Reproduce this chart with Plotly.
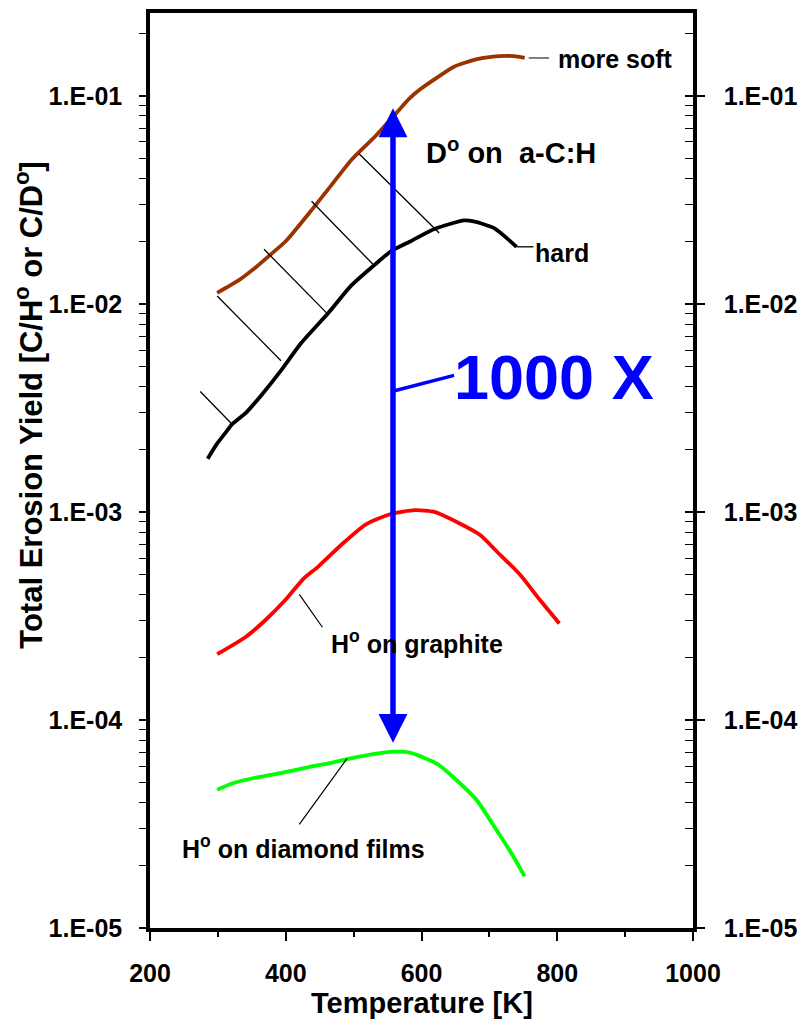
import numpy as np
import plotly.graph_objects as go

# ---------------- data ----------------
soft_T = [299, 331, 356, 378, 400, 438, 467, 496, 533, 562, 582, 599, 619, 648, 682, 715, 736, 752]
soft_Y = [0.0113, 0.0130, 0.0150, 0.0173, 0.0200, 0.0282, 0.0371, 0.0489, 0.0644, 0.0820,
          0.0969, 0.108, 0.120, 0.138, 0.150, 0.155, 0.155, 0.152]

hard_T = [285, 298, 312, 321, 342, 365, 394, 423, 463, 496, 531, 555, 584, 619, 663, 677, 707, 740]
hard_Y = [0.00180, 0.00211, 0.00242, 0.00264, 0.00301, 0.00367, 0.00483, 0.00650, 0.00906,
          0.0122, 0.0154, 0.0179, 0.0200, 0.0229, 0.0252, 0.0249, 0.0231, 0.0188]

graph_T = [299, 342, 371, 400, 426, 448, 482, 517, 555, 590, 619, 657, 686, 711, 745, 774, 803]
graph_Y = [2.07e-4, 2.52e-4, 3.04e-4, 3.79e-4, 4.77e-4, 5.46e-4, 6.95e-4, 8.67e-4, 9.77e-4,
           1.02e-3, 1.00e-3, 8.77e-4, 7.76e-4, 6.45e-4, 5.00e-4, 3.79e-4, 2.91e-4]

diam_T = [299, 321, 350, 394, 444, 467, 492, 531, 555, 584, 623, 657, 682, 711, 736, 752]
diam_Y = [4.62e-5, 4.95e-5, 5.23e-5, 5.57e-5, 6.03e-5, 6.22e-5, 6.50e-5, 6.87e-5, 7.03e-5,
          6.95e-5, 6.15e-5, 4.95e-5, 4.09e-5, 2.94e-5, 2.19e-5, 1.77e-5]

# hatch lines between soft and hard curves: (T1, Y1, T2, Y2)
hatch = [
    (274, 3.79e-3, 321, 2.64e-3),
    (299, 1.09e-2, 393, 5.33e-3),
    (368, 1.83e-2, 463, 8.85e-3),
    (438, 3.11e-2, 531, 1.52e-2),
    (508, 5.27e-2, 626, 2.19e-2),
]

# leader lines (T1, Y1, T2, Y2, color, width)
leaders = [
    (758, 0.152, 788, 0.152, "#555555", 1.5),
    (740, 0.0188, 765, 0.0188, "black", 1.3),
    (420, 4.01e-4, 454, 2.79e-4, "black", 1.2),
    (490, 6.50e-5, 420, 3.15e-5, "black", 1.2),
    (556, 3.79e-3, 648, 4.53e-3, "#0000FF", 3.5),
]

arrow_T = 558
arrow_top = 0.0885
arrow_bottom = 7.76e-5

x_ticks = [200, 400, 600, 800, 1000]
x_minor = [300, 500, 700, 900]
y_ticks = [1e-5, 1e-4, 1e-3, 1e-2, 1e-1]
y_ticktext = ["1.E-05", "1.E-04", "1.E-03", "1.E-02", "1.E-01"]
y_minor = [m * 10.0 ** e for e in range(-5, 0) for m in range(2, 10) if m * 10.0 ** e < 0.25]

# text labels (text, T, Y, size, color)
labels = [
    ("more soft", 798, 0.150, 25, "black"),
    ("hard", 765, 0.0175, 25, "black"),
    ("D<sup>o</sup> on  a-C:H", 604, 0.0545, 29, "black"),
    ("1000 X", 645, 4.43e-3, 63, "#0000FF"),
    ("H<sup>o</sup> on graphite", 463, 2.38e-4, 25, "black"),
    ("H<sup>o</sup> on diamond films", 244, 2.46e-5, 25, "black"),
]

FONT = "Liberation Sans, Arial, sans-serif"
L = np.log10

fig = go.Figure()
for T, Y, col in [(soft_T, soft_Y, "#993300"), (hard_T, hard_Y, "black"),
                  (graph_T, graph_Y, "#FF0000"), (diam_T, diam_Y, "#00FF00")]:
    fig.add_trace(go.Scatter(x=T, y=Y, mode="lines",
                             line=dict(color=col, width=3.8, shape="spline", smoothing=0.6),
                             showlegend=False, hoverinfo="skip"))
for t1, y1, t2, y2 in hatch:
    fig.add_trace(go.Scatter(x=[t1, t2], y=[y1, y2], mode="lines",
                             line=dict(color="black", width=1.3),
                             showlegend=False, hoverinfo="skip"))
for t1, y1, t2, y2, c, w in leaders:
    fig.add_trace(go.Scatter(x=[t1, t2], y=[y1, y2], mode="lines",
                             line=dict(color=c, width=w),
                             showlegend=False, hoverinfo="skip"))
fig.add_trace(go.Scatter(x=[], y=[], yaxis="y2", showlegend=False))
fig.add_trace(go.Scatter(x=[], y=[], yaxis="y3", showlegend=False))

annotations = []
annotations.append(dict(x=arrow_T, y=L(arrow_bottom), ax=arrow_T, ay=L(arrow_top),
                        xref="x", yref="y", axref="x", ayref="y", text="",
                        showarrow=True, arrowhead=2, startarrowhead=2, arrowside="end+start",
                        arrowwidth=5.5, arrowsize=1.05, startarrowsize=1.05,
                        arrowcolor="#0000FF", standoff=0, startstandoff=0))
for txt, T, Y, s, c in labels:
    annotations.append(dict(x=T, y=L(Y), xref="x", yref="y", text="<b>%s</b>" % txt,
                            showarrow=False, xanchor="left", yanchor="middle",
                            font=dict(family=FONT, size=s, color=c)))
annotations.append(dict(x=-0.222, y=0.5724, xref="paper", yref="paper", textangle=-90,
                        text="<b>Total Erosion Yield [C/H<sup>o</sup> or C/D<sup>o</sup>]</b>",
                        showarrow=False, xanchor="center", yanchor="middle",
                        font=dict(family=FONT, size=31, color="black")))
annotations.append(dict(x=0.5, y=-0.082, xref="paper", yref="paper",
                        text="<b>Temperature [K]</b>", showarrow=False,
                        xanchor="center", yanchor="middle",
                        font=dict(family=FONT, size=29, color="black")))

tickfont = dict(family=FONT, size=25, color="black")
fig.update_layout(
    width=807, height=1023, margin=dict(l=150, r=109, t=9, b=95),
    paper_bgcolor="white", plot_bgcolor="white",
    annotations=annotations, showlegend=False,
    xaxis=dict(range=[200, 1000], tickmode="array", tickvals=x_ticks,
               ticktext=["<b>%d</b>" % v for v in x_ticks],
               ticks="outside", ticklen=9, tickwidth=1.5, tickcolor="black",
               minor=dict(tickvals=x_minor, ticks="outside", ticklen=5, tickwidth=1.5, tickcolor="black"),
               showline=True, linewidth=3.5, linecolor="black", mirror=True,
               showgrid=False, zeroline=False, tickfont=tickfont, ticklabelstandoff=11),
    yaxis=dict(type="log", range=[-5, L(0.25)], tickmode="array", tickvals=y_ticks,
               ticktext=["<b>%s</b>" % t for t in y_ticktext],
               ticks="outside", ticklen=7, tickwidth=1.5, tickcolor="black",
               minor=dict(tickvals=y_minor, ticks="outside", ticklen=7, tickwidth=1.2, tickcolor="black"),
               showline=True, linewidth=3.5, linecolor="black",
               showgrid=False, zeroline=False, tickfont=tickfont, ticklabelstandoff=12),
    yaxis2=dict(type="log", range=[-5, L(0.25)], overlaying="y", side="right", anchor="x",
                tickmode="array", tickvals=y_ticks,
                ticktext=["<b>%s</b>" % t for t in y_ticktext],
                ticks="outside", ticklen=8, tickwidth=1.5, tickcolor="black",
                minor=dict(tickvals=y_minor, ticks="inside", ticklen=8, tickwidth=1.2, tickcolor="black"),
                showline=True, linewidth=3.5, linecolor="black",
                showgrid=False, zeroline=False, tickfont=tickfont, ticklabelstandoff=14),
    yaxis3=dict(type="log", range=[-5, L(0.25)], overlaying="y", side="right", anchor="x",
                tickmode="array", tickvals=y_ticks, showticklabels=False,
                ticks="inside", ticklen=8, tickwidth=1.5, tickcolor="black",
                showline=False, showgrid=False, zeroline=False),
)

fig.write_html("out.html")
